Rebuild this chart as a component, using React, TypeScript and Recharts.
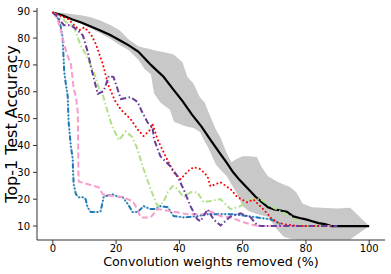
import React from 'react';
import { ComposedChart, Line, Area, XAxis, YAxis } from 'recharts';

const xTicks = [0, 20, 40, 60, 80, 100];
const yTicks = [10, 20, 30, 40, 50, 60, 70, 80, 90];

const bandX = [0, 3, 6, 9, 12, 15, 18, 21, 24, 27, 29, 31, 32, 34, 37, 38.3, 41, 42.5, 44.5, 46.5, 48, 49, 51.5, 53, 55, 56.5, 58, 60, 62, 64.5, 66, 68, 71, 73, 75, 77, 79, 82, 85, 90, 94, 97, 100];
const bandHigh = [89.5, 89.4, 89, 88.5, 87.8, 86.5, 85, 83, 79.5, 77, 76.3, 75.8, 75.5, 75, 74.3, 73.8, 71, 65.6, 63, 58, 56, 53, 46, 43, 37, 33.8, 35, 36, 36, 35.7, 32, 28.5, 26.5, 25.5, 24.5, 22.5, 18.3, 17, 16.8, 16.5, 16.8, 13.5, 10];
const bandLow = [89.5, 88.2, 86.8, 85.2, 83.6, 81.8, 79.8, 77.5, 75.5, 72, 68.5, 66.5, 59.4, 56, 53.3, 48.8, 47.5, 47, 46.5, 45, 41.5, 39.5, 33, 31, 28.5, 25.5, 22.5, 17.5, 15.5, 14.5, 14, 13.4, 8.5, 6, 5.3, 5, 5, 5, 5, 5, 5, 7.5, 10];

const meanX = [0, 3, 6, 9, 12, 15, 18, 21, 24, 27, 29, 31, 33, 35, 38, 41, 44, 47, 50, 53, 55, 57, 59, 62, 64, 66, 68, 70, 72, 74, 76, 78, 80, 82, 84, 86, 88, 100];
const meanY = [89.5, 88.5, 87, 85.8, 84.3, 82.8, 81.2, 79.3, 77.3, 75, 72.5, 70, 67.8, 65.6, 61, 56.5, 51.5, 47, 41.8, 36.8, 33.5, 30, 27.2, 23.5, 21, 19, 17, 16.2, 15.8, 15.3, 13.6, 13, 12.5, 11.8, 11.1, 10.7, 10, 10];

const redX = [0, 2, 5, 7, 8.5, 10, 12, 13.6, 15.8, 17.4, 19.5, 21.5, 24.6, 26.8, 28.7, 30.9, 31.5, 33.1, 35, 38.2, 40.4, 42.6, 44.5, 46.7, 48.9, 49.8, 53, 56.2, 58.4, 61.5, 63.4, 66.6, 69, 71, 74, 78, 88];
const redY = [89.5, 88.5, 87, 84.5, 83, 84, 81.5, 77.8, 70.3, 63, 57, 53.4, 49.8, 46, 43.5, 46, 48, 42.3, 37.5, 30, 27.4, 30.4, 31.9, 31.2, 28.5, 24.8, 26.3, 23.7, 20.7, 18.8, 19.9, 16.2, 13, 11.3, 10.5, 10, 10];

const purpleX = [0, 1, 3.5, 5.7, 7.9, 9.5, 11, 12, 14.2, 16.1, 17.7, 19.2, 21.5, 24.6, 26.8, 28, 30, 31.5, 32, 34, 37.2, 39.4, 41.3, 43.5, 45.7, 46.7, 48.9, 50.8, 53, 56.2, 59.3, 62.5, 64.7, 66, 90];
const purpleY = [89.5, 88.5, 84.8, 84.8, 82.8, 81, 75, 69.5, 59.2, 60.3, 65.9, 65.5, 57.3, 58, 56.2, 53, 48.5, 46.8, 42.3, 36, 32.2, 28.5, 23.8, 17.4, 12.5, 11.8, 16.2, 12.5, 10.2, 13.6, 14.7, 13.2, 10.2, 10, 10];

const greenX = [0, 1.9, 4.1, 6.6, 8.8, 10.4, 12.9, 14.5, 15.7, 16.7, 18.8, 20.9, 23, 25, 26.5, 28.7, 30.9, 33.1, 35, 36.3, 37.9, 39.4, 41.3, 43.5, 45.7, 47.6, 49.8, 53, 56.2, 59.3, 62.5, 65.6, 68.8, 71.9, 75.1, 78.2, 80, 88];
const greenY = [89.5, 88.3, 86, 84.5, 77.2, 74, 67.5, 61.5, 59.4, 55, 47, 42, 45.2, 43.3, 39.5, 31.2, 23.8, 17.4, 18.9, 22.6, 24.9, 23.8, 20.8, 22.6, 22.6, 18.9, 19.3, 20, 16.3, 17.4, 20, 20, 17.4, 15.5, 13.7, 10.7, 10, 10];

const pinkX = [0, 1, 1.6, 2.5, 3.5, 4.7, 5.7, 6.3, 6.6, 7.3, 7.9, 8, 8.05, 8.1, 8.2, 11.4, 14.5, 15.8, 19.9, 22.1, 25.2, 26.2, 27.8, 30.9, 33.1, 37.2, 42.6, 47.6, 49.8, 53, 56.2, 60.3, 64.7, 88];
const pinkY = [89.5, 88, 86.5, 83, 78, 73.3, 70.3, 64.7, 61, 58.3, 52.3, 42, 35, 29.2, 26.6, 25.5, 24.4, 21.8, 21, 20.7, 19.3, 17.4, 13.2, 13.2, 16.3, 15.5, 14.4, 14.4, 15.5, 13.7, 13.2, 11.4, 10, 10];

const blueX = [0, 1, 1.9, 2.5, 3.1, 3.6, 4.1, 4.7, 5, 5.7, 6.3, 6.4, 6.6, 7.3, 8.2, 9.8, 10.4, 11, 12, 14.2, 15.1, 15.8, 16.1, 18.9, 20.5, 22.1, 23, 24, 25.2, 26.8, 28.7, 30.9, 32.5, 34, 36.3, 38.2, 41.3, 45.7, 48.9, 53, 57.1, 61.5, 64.7, 68.8, 71, 72.9, 88];
const blueY = [89.5, 88.5, 86.6, 84.2, 80.2, 67.6, 63, 58.4, 48.7, 39.7, 34.9, 30.4, 25.5, 21.8, 20.7, 20.7, 19.9, 16.9, 15.2, 15.2, 15.5, 19.3, 21, 21.8, 21, 20.7, 19.3, 17.7, 15.2, 15.2, 17.4, 16.3, 16.3, 17.4, 17, 13.7, 13.2, 13.7, 14.4, 14.4, 14.4, 13.7, 13.2, 12.5, 11.4, 10, 10];

const zip = (xs: number[], ys: number[]) => xs.map((x, i) => ({ x, y: ys[i] }));
const bandData = bandX.map((x, i) => ({ x, range: [bandLow[i], bandHigh[i]] }));

const FONT = 'DejaVu Sans';
const tickStyle = { fontSize: 10, fill: '#000', fontFamily: FONT };
const frame = '#333';

export default function App() {
  return (
    <div style={{ position: 'absolute', left: 0, top: 0 }}>
      <ComposedChart width={391} height={274} margin={{ top: 8, right: 6, left: 0, bottom: 0 }}>
        <XAxis
          dataKey="x"
          type="number"
          domain={[-5, 105]}
          ticks={xTicks}
          allowDataOverflow
          height={34}
          tick={tickStyle}
          tickSize={4}
          tickMargin={1}
          stroke={frame}
          tickLine={{ stroke: frame }}
          axisLine={{ stroke: frame }}
          label={{ value: 'Convolution weights removed (%)', position: 'insideBottom', offset: 8, style: { fontSize: 12.7, fill: '#000', fontFamily: FONT } }}
        />
        <XAxis xAxisId="top" orientation="top" type="number" domain={[-5, 105]} height={0} tick={false} tickLine={false} axisLine={{ stroke: frame }} />
        <YAxis
          type="number"
          domain={[4.8, 91.2]}
          ticks={yTicks}
          allowDataOverflow
          width={37}
          tick={tickStyle}
          tickSize={4}
          tickMargin={3}
          stroke={frame}
          tickLine={{ stroke: frame }}
          axisLine={{ stroke: frame }}
          label={{ value: 'Top-1 Test Accuracy', angle: -90, position: 'insideLeft', offset: 11, style: { fontSize: 16, fill: '#000', fontFamily: FONT, textAnchor: 'middle' } }}
        />
        <YAxis yAxisId="right" orientation="right" type="number" domain={[4.8, 91.2]} width={0} tick={false} tickLine={false} axisLine={{ stroke: frame }} />
        <Area data={bandData} dataKey="range" type="linear" stroke="none" fill="#c8c8c8" fillOpacity={1} isAnimationActive={false} dot={false} activeDot={false} />
        <Line data={zip(meanX, meanY)} dataKey="y" type="linear" stroke="#000" strokeWidth={2.2} dot={false} activeDot={false} isAnimationActive={false} />
        <Line data={zip(blueX, blueY)} dataKey="y" type="linear" stroke="#a6cee3" strokeWidth={1.2} dot={false} activeDot={false} isAnimationActive={false} />
        <Line data={zip(blueX, blueY)} dataKey="y" type="linear" stroke="#1f78b4" strokeWidth={2} strokeDasharray="5 2 1.5 2 1.5 2" dot={false} activeDot={false} isAnimationActive={false} />
        <Line data={zip(pinkX, pinkY)} dataKey="y" type="linear" stroke="#f89ccb" strokeWidth={2} strokeDasharray="6 3" dot={false} activeDot={false} isAnimationActive={false} />
        <Line data={zip(greenX, greenY)} dataKey="y" type="linear" stroke="#b2df8a" strokeWidth={2} strokeDasharray="6 2.5 1.5 2.5" dot={false} activeDot={false} isAnimationActive={false} />
        <Line data={zip(redX, redY)} dataKey="y" type="linear" stroke="#ff0000" strokeWidth={2} strokeDasharray="0.1 4" strokeLinecap="round" dot={false} activeDot={false} isAnimationActive={false} />
        <Line data={zip(purpleX, purpleY)} dataKey="y" type="linear" stroke="#6a3d9a" strokeWidth={2} strokeDasharray="6 2.5 1.5 2.5" dot={false} activeDot={false} isAnimationActive={false} />
      </ComposedChart>
    </div>
  );
}
